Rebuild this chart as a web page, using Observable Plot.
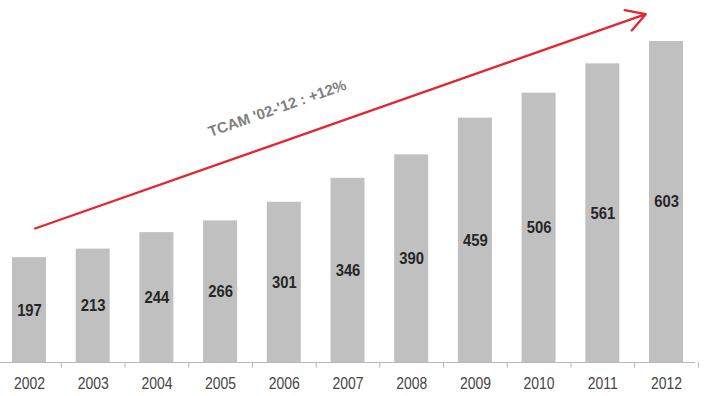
<!DOCTYPE html>
<html>
<head>
<meta charset="utf-8">
<script src="https://cdn.jsdelivr.net/npm/d3@7"></script>
<script src="https://cdn.jsdelivr.net/npm/@observablehq/plot@0.6"></script>
<style>
  body { margin: 0; background: #fff; }
  svg { display: block; }
</style>
</head>
<body>
<div id="chart"></div>
<script>
// Yearly values
const years = ["2002", "2003", "2004", "2005", "2006", "2007", "2008", "2009", "2010", "2011", "2012"];
const values = [197, 213, 244, 266, 301, 346, 390, 459, 506, 561, 603];

// Trend arrow (ends given in year / value units) and its caption
const trendYears = ["2002", "2012"];
const trendValues = [248, 668];
const trendLabel = "TCAM '02-'12 : +12%";
const trendLabelYear = "2006";
const trendLabelValue = 477;

const W = 706, H = 396;
const marginLeft = 0, marginRight = 11;
const padIn = 0.466, padOut = 0.188;
const step = (W - marginLeft - marginRight) / (years.length - padIn + 2 * padOut);
const sans = "'Liberation Sans', Arial, Helvetica, sans-serif";

const data = years.map((year, i) => ({year, value: values[i]}));
const trend = [{x1: trendYears[0], y1: trendValues[0], x2: trendYears[1], y2: trendValues[1]}];

const chart = Plot.plot({
  width: W,
  height: H,
  marginLeft,
  marginRight,
  marginTop: 41,
  marginBottom: 34,
  style: {fontFamily: sans, fontSize: "16px", color: "#454545", background: "#fff"},
  x: {domain: years, paddingInner: padIn, paddingOuter: padOut, round: false, label: null, tickSize: 0, tickPadding: 15},
  y: {domain: [0, 603], axis: null},
  marks: [
    Plot.barY(data, {x: "year", y: "value", fill: "#c0c0c0"}),
    Plot.ruleY([0], {stroke: "#b8b8b8", strokeWidth: 1.2}),
    // small separators at the right edge of each year slot, under the baseline
    Plot.ruleX(years, {x: d => d, y1: 0, y2: -11, dx: step / 2, stroke: "#b8b8b8", strokeWidth: 1}),
    Plot.text(data, {
      x: "year", y: d => d.value / 2, text: d => String(d.value),
      fontWeight: "bold", fontSize: 17, fill: "#262626"
    }),
    Plot.arrow(trend, {
      x1: "x1", y1: "y1", x2: "x2", y2: "y2",
      stroke: "#e4262f", strokeWidth: 2.3, insetStart: 6, insetEnd: 22,
      headLength: 14, headAngle: 60
    }),
    Plot.text([trendLabel], {
      x: () => trendLabelYear, y: () => trendLabelValue, text: d => d,
      rotate: -19.3, dx: -7, fontSize: 15, fontWeight: "bold", fill: "#7f7f7f"
    })
  ]
});

document.getElementById("chart").append(chart);

// Narrow lettering for the year ticks and value labels
for (const t of chart.querySelectorAll("text")) {
  if (t.textContent === trendLabel) continue;
  const len = t.getComputedTextLength();
  t.setAttribute("textLength", (len * 0.87).toFixed(1));
  t.setAttribute("lengthAdjust", "spacingAndGlyphs");
}
</script>
</body>
</html>
